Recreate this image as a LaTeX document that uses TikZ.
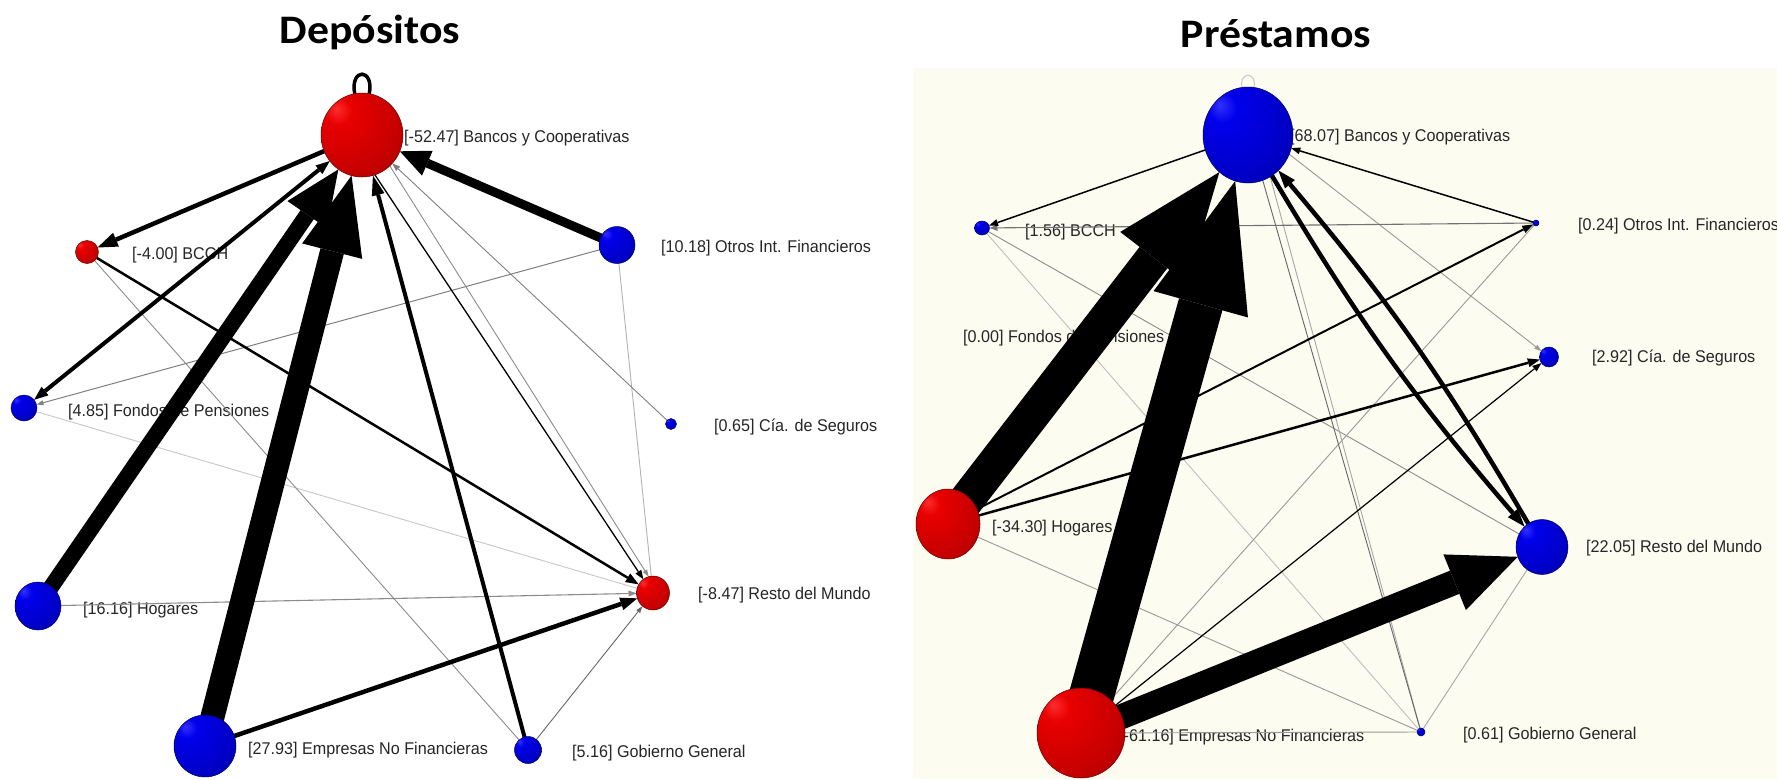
\documentclass[tikz,border=0pt]{standalone}
\usepackage{fontspec}
\usetikzlibrary{arrows.meta,shapes.geometric}
\newfontfamily\labfont{Liberation Sans}[FakeStretch=0.95]
\newfontfamily\headfont{Carlito}[FakeStretch=1.08]

\definecolor{cream}{RGB}{253,252,241}
\definecolor{rHi}{RGB}{255,45,45}
\definecolor{rMid}{RGB}{232,0,0}
\definecolor{rBody}{RGB}{200,0,0}
\definecolor{rDark}{RGB}{150,0,0}
\definecolor{rEdge}{RGB}{95,0,0}
\definecolor{bHi}{RGB}{50,50,255}
\definecolor{bMid}{RGB}{0,0,235}
\definecolor{bBody}{RGB}{0,0,200}
\definecolor{bDark}{RGB}{0,0,150}
\definecolor{bEdge}{RGB}{0,0,90}

% spherical shadings with the highlight up and to the left
\pgfdeclareradialshading{redsphere}{\pgfpoint{-16bp}{16bp}}{color(0bp)=(rHi); color(8bp)=(rMid); color(30bp)=(rBody); color(52bp)=(rDark); color(72bp)=(rEdge)}
\pgfdeclareradialshading{bluesphere}{\pgfpoint{-16bp}{16bp}}{color(0bp)=(bHi); color(8bp)=(bMid); color(30bp)=(bBody); color(52bp)=(bDark); color(72bp)=(bEdge)}

\pgfdeclarelayer{bg}
\pgfdeclarelayer{labels}
\pgfdeclarelayer{links}
\pgfsetlayers{bg,labels,links,main}

\begin{document}
\begin{tikzpicture}[x=1pt,y=-1pt,
  ball/.style={ellipse, inner sep=0pt, outer sep=0pt},
  redball/.style={ball, shading=redsphere, draw=rEdge, line width=0.5pt},
  blueball/.style={ball, shading=bluesphere, draw=bEdge, line width=0.5pt},
  lab/.style={anchor=west, inner sep=0pt, font=\labfont\fontsize{17}{17}\selectfont, text=black!85},
  heading/.style={anchor=base, inner sep=0pt, font=\headfont\bfseries\fontsize{40.5}{40.5}\selectfont},
  e/.style n args={3}{line width=#1, -{Triangle[length=#2, width=#3, line width=0pt]}},
  faint/.style={line width=0.9pt},
]
\useasboundingbox (0,0) rectangle (1777,779);
\begin{pgfonlayer}{bg}
  \fill[white] (0,0) rectangle (1777,779);
  \fill[cream] (913,68) rectangle (1777,779);
\end{pgfonlayer}

% ---------------- titles
\node[heading] (tDep) at (370,43) {Depósitos};
\node[heading] (tPre) at (1276,47) {Préstamos};

% ---------------- Depósitos: actors
\node[redball,  minimum width=82pt, minimum height=84pt] (LB)  at (362,135) {};
\node[redball,  minimum width=23pt, minimum height=23pt] (LBC) at (87,252) {};
\node[blueball, minimum width=36pt, minimum height=37pt] (LO)  at (617,245) {};
\node[blueball, minimum width=26pt, minimum height=26pt] (LF)  at (24,408) {};
\node[blueball, minimum width=11pt, minimum height=11pt] (LC)  at (671,424) {};
\node[blueball, minimum width=46pt, minimum height=48pt] (LH)  at (38,606) {};
\node[redball,  minimum width=33pt, minimum height=34pt] (LR)  at (653,593) {};
\node[blueball, minimum width=62pt, minimum height=62pt] (LE)  at (205,746) {};
\node[blueball, minimum width=27pt, minimum height=27pt] (LG)  at (528,750) {};

% ---------------- Préstamos: actors
\node[blueball, minimum width=90pt, minimum height=96pt] (RB)  at (1248,135) {};
\node[blueball, minimum width=15pt, minimum height=14pt] (RBC) at (982,228) {};
\node[blueball, minimum width=6pt,  minimum height=6pt]  (RO)  at (1536,223) {};
\node[blueball, minimum width=19pt, minimum height=20pt] (RC)  at (1549,357) {};
\node[redball,  minimum width=64pt, minimum height=70pt] (RH)  at (948,524) {};
\node[blueball, minimum width=52pt, minimum height=55pt] (RR)  at (1542,547) {};
\node[redball,  minimum width=88pt, minimum height=90pt] (RE)  at (1081,733) {};
\node[blueball, minimum width=8pt,  minimum height=8pt]  (RG)  at (1421,732) {};

% ---------------- labels
\begin{pgfonlayer}{labels}
  \node[lab] (lLB)  at (404,138) {[-52.47] Bancos y Cooperativas};
  \node[lab] (lLBC) at (132,255) {[-4.00] BCCH};
  \node[lab] (lLO)  at (661,248) {[10.18] Otros Int. Financieros};
  \node[lab] (lLF)  at (68,412)  {[4.85] Fondos de Pensiones};
  \node[lab] (lLC)  at (714,427) {[0.65] Cía. de Seguros};
  \node[lab] (lLH)  at (83,610)  {[16.16] Hogares};
  \node[lab] (lLR)  at (698,595) {[-8.47] Resto del Mundo};
  \node[lab] (lLE)  at (248,750) {[27.93] Empresas No Financieras};
  \node[lab] (lLG)  at (572,753) {[5.16] Gobierno General};

  \node[lab] (lRB)  at (1290,137) {[68.07] Bancos y Cooperativas};
  \node[lab] (lRBC) at (1025,232) {[1.56] BCCH};
  \node[lab] (lRO)  at (1578,226) {[0.24] Otros Int. Financieros};
  \node[lab] (lRC)  at (1592,358) {[2.92] Cía. de Seguros};
  \node[lab] (lRF)  at (963,338)  {[0.00] Fondos de Pensiones};
  \node[lab] (lRH)  at (992,528)  {[-34.30] Hogares};
  \node[lab] (lRR)  at (1586,548) {[22.05] Resto del Mundo};
  \node[lab] (lRE)  at (1119,737) {[-61.16] Empresas No Financieras};
  \node[lab] (lRG)  at (1463,735) {[0.61] Gobierno General};
\end{pgfonlayer}

% ---------------- Depósitos: flows
\begin{pgfonlayer}{links}
  % faint ties
  \draw[faint, black!22] (LF.center) -- (LR);
  \draw[faint, black!30] (LO.center) -- (LR);
  \draw[faint, black!45] (LBC.center) -- (LG);
  \draw[e={1pt}{7pt}{5pt}, black!50] (LO.center) -- (LF);
  \draw[e={1.1pt}{8pt}{6pt}, black!45] (LH.center) -- (LR);
  \draw[e={0.9pt}{7pt}{5pt}, black!60] (LG.center) -- (LR);
  \draw[e={0.9pt}{8pt}{6pt}, black!50] (LC.center) -- (LB);
  \draw[e={0.9pt}{7pt}{5pt}, black!45] (LB.-48) -- (LR.105);
  \draw[e={1.3pt}{9pt}{7pt}] (LB.-72) -- (LR.125);
  % strong ties
  \draw[line width=3.5pt] (LB.100) .. controls +(-5,-26) and +(5,-26) .. (LB.80);
  \draw[e={2.5pt}{13pt}{10pt}] (LBC) -- (LR);
  \draw[e={4.5pt}{17pt}{13pt}] (LE.center) -- (LR);
  \draw[e={4.5pt}{20pt}{15pt}] (LB) -- (LBC);
  \draw[line width=4pt, {Triangle[length=14pt,width=11pt,line width=0pt]}-{Triangle[length=14pt,width=11pt,line width=0pt]}] (LB) -- (LF);
  \draw[e={4pt}{20pt}{13pt}] (LG.center) -- (LB);
  \draw[e={9pt}{30pt}{27pt}] (LO.center) -- (LB);
  \draw[e={16pt}{55pt}{48pt}] (LH.center) -- (LB);
  \draw[e={24pt}{78pt}{62pt}] (LE.center) -- (LB);

% ---------------- Préstamos: flows
  \draw[line width=1pt, black!22] (RB.97) .. controls +(-4,-16) and +(4,-16) .. (RB.83);
  \draw[faint, black!25] (RBC.center) -- (RG);
  \draw[faint, black!40] (RH.center) -- (RG);
  \draw[faint, black!40] (RE.center) -- (RG);
  \draw[faint, black!45] (RBC.center) -- (RR);
  \draw[faint, black!35] (RG.center) -- (RR);
  \draw[faint, black!40] (RE.center) -- (RO);
  \draw[faint, black!35] (RB.-62) -- (RG);
  \draw[faint, black!60] (RB.-72) -- (RG);
  \draw[e={0.9pt}{7pt}{5pt}, black!40] (RB.-25) -- (RC);
  \draw[e={1.1pt}{8pt}{6pt}, black!55] (RO.center) -- (RBC);
  \draw[e={1.5pt}{9pt}{7pt}] (RB) -- (RBC);
  \draw[e={1.5pt}{9pt}{7pt}] (RO.center) -- (RB);
  \draw[e={2pt}{11pt}{8pt}] (RH.center) -- (RO);
  \draw[e={2.5pt}{12pt}{9pt}] (RH.center) -- (RC);
  \draw[e={1.2pt}{9pt}{7pt}] (RE.center) -- (RC);
  \draw[e={4.5pt}{18pt}{13pt}] (RB) to[bend right=5] (RR);
  \draw[e={4.5pt}{18pt}{13pt}] (RR) to[bend right=5] (RB);
  \draw[e={25pt}{68pt}{60pt}] (RE.center) -- (RR);
  \draw[e={35pt}{108pt}{84pt}] (RH.center) -- (RB);
  \draw[e={45pt}{128pt}{98pt}] (RE.center) -- (RB);
\end{pgfonlayer}
\end{tikzpicture}
\end{document}
